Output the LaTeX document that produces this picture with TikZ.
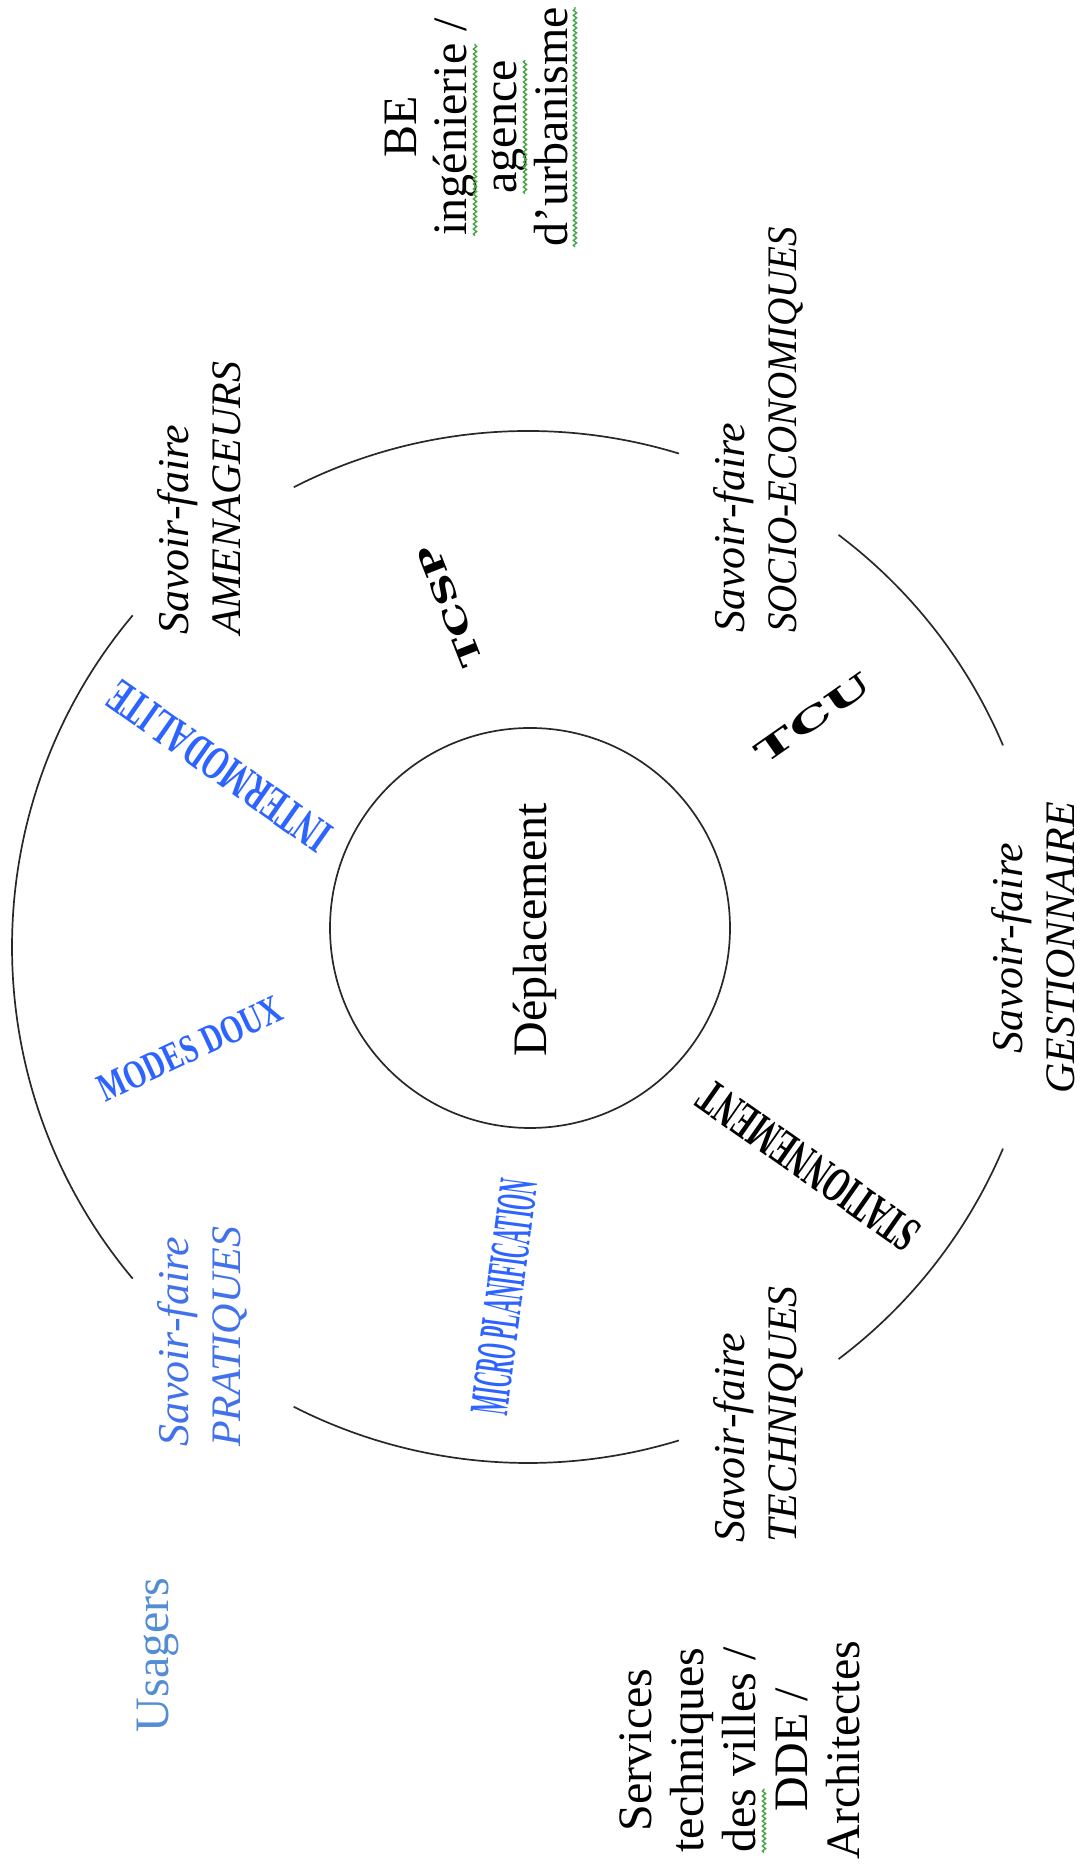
\documentclass[tikz,border=0pt]{standalone}
\usepackage{fontspec}
\setmainfont{Liberation Serif}
\newfontfamily\slabfont{DejaVu Serif}
\usetikzlibrary{decorations.pathmorphing}
\definecolor{wablue}{RGB}{45,100,255}
\definecolor{prblue}{RGB}{66,114,235}
\definecolor{usblue}{RGB}{84,141,212}
\definecolor{wavegreen}{RGB}{70,165,70}
\definecolor{ringgray}{RGB}{40,40,40}
\newlength\wIngLine \newlength\wIng \newlength\wAg \newlength\wUrb \newlength\wDesLine \newlength\wDes
\settowidth\wIngLine{\fontsize{48}{48}\selectfont ingénierie /}
\settowidth\wIng{\fontsize{48}{48}\selectfont ingénierie}
\settowidth\wAg{\fontsize{48}{48}\selectfont agence}
\settowidth\wUrb{\fontsize{48}{48}\selectfont d’urbanisme}
\settowidth\wDesLine{\fontsize{48}{48}\selectfont des villes /}
\settowidth\wDes{\fontsize{48}{48}\selectfont des}
\tikzset{
  ring/.style={line width=1.7pt, draw=ringgray},
  plain/.style={inner sep=0pt, rotate=90, anchor=base, font=\fontsize{48}{48}\selectfont},
  sfline/.style={inner sep=0pt, rotate=90, anchor=base west, font=\itshape\fontsize{44}{44}\selectfont},
  sfcaps/.style={inner sep=0pt, rotate=90, anchor=base west, font=\itshape\fontsize{42}{42}\selectfont},
  wart/.style={inner sep=0pt, anchor=center, font=\bfseries\fontsize{48}{48}\selectfont},
  slabart/.style={inner sep=0pt, anchor=center, font=\slabfont\bfseries\fontsize{30}{30}\selectfont},
  spell/.style={draw=wavegreen, line width=1.4pt, decorate, decoration={snake, amplitude=1.6pt, segment length=5pt}},
}
\begin{document}
\begin{tikzpicture}[x=1pt,y=1pt]
\useasboundingbox (0,0) rectangle (1081,1865);
\fill[white] (0,0) rectangle (1081,1865);

% outer ring (five arcs)
\coordinate (O) at (528,918);
\draw[ring] ([shift={(73:516)}]O) arc[start angle=73, end angle=117, radius=516];
\draw[ring] ([shift={(23:516)}]O) arc[start angle=23, end angle=53, radius=516];
\draw[ring] ([shift={(-53:516)}]O) arc[start angle=-53, end angle=-23, radius=516];
\draw[ring] ([shift={(-117:516)}]O) arc[start angle=-117, end angle=-73, radius=516];
\draw[ring] ([shift={(140:516)}]O) arc[start angle=140, end angle=220, radius=516];

% inner circle
\node[circle, ring, minimum size=400pt, inner sep=0pt] (cercle) at (530,937) {};
\node[plain] (dep) at (546,935) {Déplacement};

% BE block
\node[plain] (be1) at (416,1738) {BE};
\node[plain] (be2) at (466,1738) {ingénierie /};
\node[plain] (be3) at (516,1738) {agence};
\node[plain] (be4) at (567,1738) {d’urbanisme};
\coordinate (w2a) at (475,{1738-0.5*\wIngLine});
\coordinate (w2b) at (475,{1738-0.5*\wIngLine+\wIng});
\coordinate (w3a) at (525,{1738-0.5*\wAg});
\coordinate (w3b) at (525,{1738+0.5*\wAg});
\coordinate (w4a) at (575,{1738-0.5*\wUrb});
\coordinate (w4b) at (575,{1738+0.5*\wUrb});
\draw[spell] (w2a) -- (w2b);
\draw[spell] (w3a) -- (w3b);
\draw[spell] (w4a) -- (w4b);

% Savoir-faire labels
\node[sfline] (am1) at (188,1230) {Savoir-faire};
\node[sfcaps] (am2) at (240,1230) {AMENAGEURS};
\node[sfline] (so1) at (744,1232) {Savoir-faire};
\node[sfcaps] (so2) at (796,1232) {\scalebox{0.93}[1]{SOCIO-ECONOMIQUES}};
\node[sfline, anchor=base] (ge1) at (1022,917) {Savoir-faire};
\node[sfcaps, anchor=base] (ge2) at (1074,917) {GESTIONNAIRE};
\node[sfline] (te1) at (744,322) {Savoir-faire};
\node[sfcaps] (te2) at (796,322) {TECHNIQUES};
\node[sfline, text=prblue] (pr1) at (188,418) {Savoir-faire};
\node[sfcaps, text=prblue] (pr2) at (240,418) {PRATIQUES};

% actors
\node[plain, text=usblue] (us) at (168,210) {Usagers};
\node[plain] (sv1) at (651,115) {Services};
\node[plain] (sv2) at (703,115) {techniques};
\node[plain] (sv3) at (755,115) {des villes /};
\node[plain] (sv4) at (807,115) {DDE /};
\node[plain] (sv5) at (859,115) {Architectes};
\coordinate (w5a) at (764,{115-0.5*\wDesLine});
\coordinate (w5b) at (764,{115-0.5*\wDesLine+\wDes});
\draw[spell] (w5a) -- (w5b);

% word art
\node[wart, text=wablue, rotate=144.9] (inter) at (219,1099) {\scalebox{0.625}[1]{INTERMODALITE}};
\node[wart, rotate=144.9, font=\bfseries\fontsize{50}{50}\selectfont] (stat) at (809,699) {\scalebox{0.59}[1]{STATIONNEMENT}};
\node[wart, text=wablue, rotate=25, font=\bfseries\fontsize{40}{40}\selectfont] (modes) at (190,816) {\scalebox{0.72}[1]{MODES DOUX}};
\node[wart, text=wablue, rotate=82.5, font=\bfseries\fontsize{56}{56}\selectfont] (micro) at (504,568) {\scalebox{0.355}[1]{MICRO PLANIFICATION}};
\node[slabart, rotate=35] (tcu) at (813,1147) {\scalebox{1.85}[1]{TCU}};
\node[slabart, rotate=111.5] (tcsp) at (450,1259) {\scalebox{1.42}[1]{TCSP}};
\end{tikzpicture}
\end{document}
